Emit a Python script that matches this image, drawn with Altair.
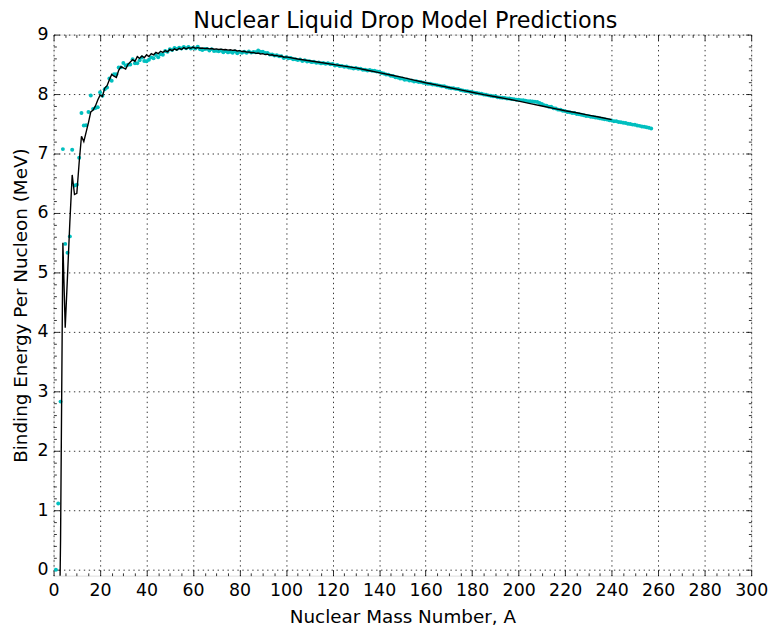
import altair as alt
import pandas as pd

TITLE = "Nuclear Liquid Drop Model Predictions"
X_TITLE = "Nuclear Mass Number, A"
Y_TITLE = "Binding Energy Per Nucleon (MeV)"

# experimental binding energy per nucleon (cyan points), one per mass number A = 1..257
exp_A = list(range(1, 258))
exp_BE = [
    0.000, 1.112, 2.827, 7.074, 5.480, 5.332, 5.606, 7.062, 6.463, 6.475,
    6.928, 7.680, 7.470, 7.476, 7.699, 7.976, 7.751, 7.767, 7.779, 8.032,
    7.972, 8.080, 8.112, 8.261, 8.224, 8.334, 8.332, 8.448, 8.449, 8.521,
    8.481, 8.493, 8.498, 8.584, 8.520, 8.520, 8.570, 8.614, 8.557, 8.551,
    8.576, 8.617, 8.601, 8.658, 8.619, 8.669, 8.661, 8.723, 8.711, 8.756,
    8.742, 8.776, 8.760, 8.778, 8.765, 8.790, 8.770, 8.792, 8.768, 8.781,
    8.765, 8.795, 8.752, 8.740, 8.757, 8.760, 8.734, 8.756, 8.725, 8.729,
    8.718, 8.732, 8.705, 8.725, 8.701, 8.711, 8.695, 8.718, 8.688, 8.711,
    8.696, 8.711, 8.696, 8.717, 8.697, 8.708, 8.705, 8.733, 8.714, 8.710,
    8.693, 8.693, 8.664, 8.667, 8.649, 8.654, 8.635, 8.635, 8.608, 8.619,
    8.601, 8.607, 8.584, 8.587, 8.571, 8.580, 8.554, 8.567, 8.548, 8.551,
    8.537, 8.545, 8.527, 8.532, 8.516, 8.523, 8.510, 8.517, 8.500, 8.505,
    8.482, 8.488, 8.472, 8.474, 8.458, 8.463, 8.445, 8.443, 8.431, 8.438,
    8.424, 8.428, 8.410, 8.408, 8.398, 8.403, 8.392, 8.393, 8.378, 8.376,
    8.354, 8.346, 8.330, 8.327, 8.309, 8.304, 8.284, 8.280, 8.263, 8.262,
    8.239, 8.244, 8.229, 8.227, 8.213, 8.215, 8.204, 8.202, 8.189, 8.184,
    8.173, 8.174, 8.162, 8.159, 8.147, 8.142, 8.132, 8.130, 8.115, 8.106,
    8.098, 8.097, 8.087, 8.084, 8.069, 8.061, 8.052, 8.049, 8.039, 8.035,
    8.023, 8.018, 8.008, 8.005, 7.991, 7.989, 7.978, 7.973, 7.963, 7.962,
    7.948, 7.942, 7.938, 7.936, 7.927, 7.927, 7.916, 7.912, 7.905, 7.906,
    7.898, 7.897, 7.886, 7.880, 7.878, 7.875, 7.870, 7.867, 7.848, 7.834,
    7.811, 7.804, 7.786, 7.785, 7.763, 7.757, 7.738, 7.735, 7.718, 7.713,
    7.700, 7.695, 7.680, 7.680, 7.664, 7.662, 7.651, 7.645, 7.630, 7.631,
    7.618, 7.615, 7.604, 7.601, 7.591, 7.586, 7.575, 7.570, 7.561, 7.556,
    7.543, 7.541, 7.531, 7.525, 7.516, 7.512, 7.502, 7.497, 7.486, 7.482,
    7.471, 7.465, 7.455, 7.449, 7.440, 7.434, 7.422,
]

# liquid drop model prediction (black line)
ldm_A = list(range(2, 101)) + list(range(105, 241, 5))
ldm_BE = [
    -2.60, 0.50, 5.50, 4.07, 4.95, 5.85, 6.64, 6.31, 6.33,            # 2-10
    6.85, 7.29, 7.20, 7.36, 7.52, 7.70, 7.73, 7.80, 7.90, 7.98,       # 11-20
    7.96, 8.10, 8.14, 8.24, 8.33, 8.30, 8.28, 8.40, 8.46, 8.44,       # 21-30
    8.42, 8.50, 8.54, 8.58, 8.55, 8.63, 8.60, 8.64, 8.61, 8.66,       # 31-40
    8.63, 8.68, 8.66, 8.70, 8.68, 8.72, 8.70, 8.73, 8.71, 8.75,       # 41-50
    8.73, 8.76, 8.74, 8.77, 8.75, 8.78, 8.76, 8.78, 8.77, 8.79,       # 51-60
    8.77, 8.78, 8.77, 8.775, 8.765, 8.77, 8.76, 8.765, 8.755, 8.76,   # 61-70
    8.75, 8.755, 8.745, 8.75, 8.74, 8.745, 8.735, 8.74, 8.725, 8.73,  # 71-80
    8.715, 8.72, 8.705, 8.71, 8.695, 8.70, 8.685, 8.69, 8.675, 8.68,  # 81-90
    8.665, 8.67, 8.655, 8.66, 8.645, 8.65, 8.635, 8.64, 8.62, 8.625,  # 91-100
    8.59, 8.56, 8.53, 8.50, 8.47, 8.44, 8.40, 8.36, 8.32, 8.28,       # 105-150
    8.235, 8.19, 8.15, 8.11, 8.07, 8.03, 7.99, 7.955, 7.92, 7.88,     # 155-200
    7.84, 7.80, 7.76, 7.72, 7.685, 7.645, 7.61, 7.57,                 # 205-240
]

x_major = list(range(0, 301, 20))
x_minor = [v for v in range(0, 301, 5) if v % 20 != 0]
y_major = list(range(0, 10))
y_minor = [k / 5 for k in range(1, 46) if k % 5 != 0]

exp_df = pd.DataFrame({"A": exp_A, "BE": exp_BE})
ldm_df = pd.DataFrame({"A": ldm_A, "BE": ldm_BE})

FONT = "DejaVu Sans"
MAJ = 5.6
MIN = 2.8
W, H = 704, 546

xscale = alt.Scale(domain=[0, 300], nice=False, zero=False)
yscale = alt.Scale(domain=[-0.1, 9], nice=False, zero=False)


def make_axis(orient, values, size, labels=False, grid=False, title=None, tpad=8):
    kw = dict(
        orient=orient, values=values, tickSize=size, offset=-size,
        domain=False, labels=labels, grid=grid, ticks=True,
        tickColor="black", tickWidth=0.8, title=title,
    )
    if labels:
        kw.update(labelFont=FONT, labelFontSize=17.5, labelColor="black",
                  labelPadding=5.6, labelFlush=False, labelOverlap=False)
    if grid:
        kw.update(gridColor="black", gridDash=[1.4, 3.6], gridWidth=0.8,
                  gridOpacity=1)
    if title:
        kw.update(titleFont=FONT, titleFontSize=18.5, titleFontWeight="normal",
                  titleColor="black", titlePadding=tpad)
    return alt.Axis(**kw)


points = alt.Chart(exp_df).mark_circle(size=16, color="#00BFBF", opacity=1, clip=True).encode(
    x=alt.X("A:Q", scale=xscale, axis=make_axis("bottom", x_major, MAJ, True, True, X_TITLE, 9)),
    y=alt.Y("BE:Q", scale=yscale, axis=make_axis("left", y_major, MAJ, True, True, Y_TITLE, 7)),
)

line = alt.Chart(ldm_df).mark_line(color="black", strokeWidth=1.4, clip=True).encode(
    x=alt.X("A:Q", scale=xscale, axis=make_axis("top", x_major, MAJ)),
    y=alt.Y("BE:Q", scale=yscale, axis=make_axis("right", y_major, MAJ)),
)

minor1 = alt.Chart(exp_df).mark_circle(size=1, opacity=0).encode(
    x=alt.X("A:Q", scale=xscale, axis=make_axis("bottom", x_minor, MIN)),
    y=alt.Y("BE:Q", scale=yscale, axis=make_axis("left", y_minor, MIN)),
)

minor2 = alt.Chart(exp_df).mark_circle(size=1, opacity=0).encode(
    x=alt.X("A:Q", scale=xscale, axis=make_axis("top", x_minor, MIN)),
    y=alt.Y("BE:Q", scale=yscale, axis=make_axis("right", y_minor, MIN)),
)

title_text = alt.Chart(pd.DataFrame({"t": [TITLE]})).mark_text(
    font=FONT, fontSize=22.5, color="black", align="center", baseline="alphabetic"
).encode(
    x=alt.value(W / 2 + 3), y=alt.value(-7), text="t:N"
)

chart = alt.layer(points, line, minor1, minor2, title_text).resolve_axis(
    x="independent", y="independent"
).properties(
    width=W,
    height=H,
    autosize=alt.AutoSizeParams(type="none"),
    padding={"left": 46, "top": 24, "right": 18, "bottom": 50},
).configure_view(
    stroke="black", strokeWidth=1.2
).configure(background="white")

chart.save("out.html", embed_options={"renderer": "svg", "actions": False})
